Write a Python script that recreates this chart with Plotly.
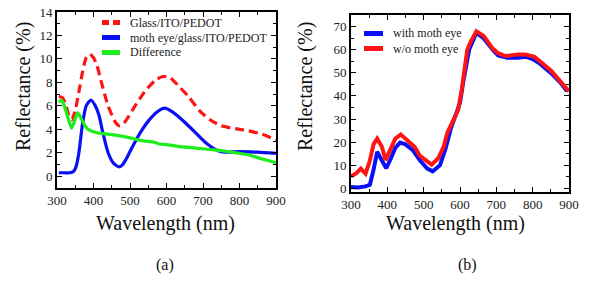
import plotly.graph_objects as go

# ---------- Panel (a) data ----------
wl_glass = [305, 315, 325, 332, 340, 350, 360, 370, 380, 390, 400, 410, 420, 440, 460, 470, 480, 490,
            510, 540, 570, 590, 610, 630, 660, 690, 720, 750, 780, 820, 860, 900]
r_glass = [6.8, 6.7, 6.0, 5.2, 4.8, 5.6, 7.2, 8.9, 10.1, 10.4, 10.1, 9.4, 8.2, 6.0, 4.6, 4.3, 4.4, 4.8,
           5.8, 7.2, 8.2, 8.5, 8.4, 7.8, 6.8, 5.6, 4.8, 4.3, 4.1, 3.9, 3.6, 3.1]

wl_moth = [305, 320, 335, 345, 352, 360, 370, 380, 393, 405, 415, 425, 440, 455, 470, 480, 490, 510,
           530, 550, 575, 595, 620, 650, 680, 710, 740, 760, 800, 850, 900]
r_moth = [0.3, 0.3, 0.3, 0.4, 0.8, 2.0, 4.5, 6.0, 6.5, 6.0, 5.2, 3.8, 2.0, 1.1, 0.8, 1.0, 1.5, 2.7,
          3.8, 4.7, 5.5, 5.8, 5.4, 4.6, 3.7, 2.8, 2.2, 2.05, 2.1, 2.05, 1.95]

wl_diff = [305, 312, 320, 330, 340, 348, 357, 365, 375, 385, 400, 420, 450, 480, 510, 540, 560, 580,
           600, 630, 680, 730, 780, 820, 860, 900]
r_diff = [6.3, 6.5, 6.0, 5.0, 4.1, 4.7, 5.4, 5.0, 4.4, 4.0, 3.8, 3.65, 3.55, 3.4, 3.2, 3.0, 2.95, 2.75,
          2.7, 2.55, 2.4, 2.25, 2.05, 1.85, 1.5, 1.15]

# ---------- Panel (b) data ----------
wl_with = [300, 320, 340, 352, 362, 372, 385, 397, 410, 422, 435, 450, 470, 490, 510, 525, 545, 560,
           575, 590, 600, 610, 625, 645, 665, 690, 705, 730, 760, 780, 800, 820, 850, 875, 895]
r_with = [0.5, 0.3, 0.8, 1.5, 8.0, 15.8, 12.0, 8.7, 13.0, 17.5, 19.8, 19.0, 16.5, 12.0, 8.5, 7.3, 10.0, 17.0,
          26.0, 32.0, 37.0, 47.0, 60.0, 67.3, 65.0, 60.0, 57.5, 56.5, 56.5, 57.0, 56.0, 54.0, 50.0, 46.0, 42.0]

wl_wo = [300, 315, 327, 340, 352, 362, 372, 385, 395, 410, 422, 437, 455, 475, 490, 510, 522, 540, 555,
         565, 580, 595, 605, 620, 628, 645, 665, 690, 705, 725, 760, 780, 805, 825, 850, 875, 900]
r_wo = [5.2, 6.5, 8.5, 6.3, 12.0, 19.0, 21.5, 18.0, 12.2, 18.0, 21.5, 23.3, 21.0, 18.0, 14.0, 11.5, 10.2, 13.0,
        18.0, 24.0, 29.0, 34.0, 43.0, 60.0, 63.0, 68.0, 66.0, 60.5, 58.5, 57.3, 58.0, 58.0, 57.0, 54.5, 51.0,
        46.5, 42.0]

x_ticks = [300, 400, 500, 600, 700, 800, 900]
ya_ticks = [0, 2, 4, 6, 8, 10, 12, 14]
yb_ticks = [0, 10, 20, 30, 40, 50, 60, 70]

names_a = ["Glass/ITO/PEDOT", "moth eye/glass/ITO/PEDOT", "Difference"]
names_b = ["with moth eye", "w/o moth eye"]
x_title = "Wavelength (nm)"
y_title = "Reflectance (%)"

RED = "#ff1414"
BLUE = "#0a10f5"
GREEN = "#1cee1c"
FONT = "Liberation Serif"

fig = go.Figure()
fig.add_trace(go.Scatter(x=wl_glass, y=r_glass, mode="lines", name=names_a[0], showlegend=False,
                         line=dict(color=RED, width=3.2, dash="9px,5px", shape="spline", smoothing=0.6),
                         xaxis="x", yaxis="y"))
fig.add_trace(go.Scatter(x=wl_moth, y=r_moth, mode="lines", name=names_a[1], showlegend=False,
                         line=dict(color=BLUE, width=3.2, shape="spline", smoothing=0.6),
                         xaxis="x", yaxis="y"))
fig.add_trace(go.Scatter(x=wl_diff, y=r_diff, mode="lines", name=names_a[2], showlegend=False,
                         line=dict(color=GREEN, width=3.2, shape="spline", smoothing=0.6),
                         xaxis="x", yaxis="y"))
fig.add_trace(go.Scatter(x=wl_with, y=r_with, mode="lines", name=names_b[0], showlegend=False,
                         line=dict(color=BLUE, width=4),
                         xaxis="x2", yaxis="y2"))
fig.add_trace(go.Scatter(x=wl_wo, y=r_wo, mode="lines", name=names_b[1], showlegend=False,
                         line=dict(color=RED, width=4),
                         xaxis="x2", yaxis="y2"))

W, H = 598, 283

def px_x(p):
    return p / W

def px_y(p):
    return 1 - p / H

common = dict(showline=True, linecolor="black", linewidth=1.6, mirror="ticks",
              ticks="inside", ticklen=5, tickwidth=1.2, tickcolor="black",
              showgrid=False, zeroline=False, automargin=False,
              tickfont=dict(family=FONT, size=13, color="#222"))

shapes = []
annos = []

def legend_entry(x0, x1, y, color, text, dash="solid"):
    shapes.append(dict(type="line", xref="paper", yref="paper", x0=px_x(x0), x1=px_x(x1),
                       y0=px_y(y), y1=px_y(y), line=dict(color=color, width=5, dash=dash)))
    annos.append(dict(text=text, x=px_x(x1 + 8), y=px_y(y), xref="paper", yref="paper",
                      xanchor="left", yanchor="middle", showarrow=False,
                      font=dict(family=FONT, size=12, color="#222")))

legend_entry(102, 120, 22.5, RED, names_a[0], dash="7px,4px")
legend_entry(102, 120, 37.5, BLUE, names_a[1])
legend_entry(102, 120, 52.5, GREEN, names_a[2])
legend_entry(364, 383, 33.5, BLUE, names_b[0])
legend_entry(364, 383, 48.5, RED, names_b[1])

def text(t, x, y, size, angle=0):
    annos.append(dict(text=t, x=px_x(x), y=px_y(y), xref="paper", yref="paper", showarrow=False,
                      xanchor="center", yanchor="middle", textangle=angle,
                      font=dict(family=FONT, size=size, color="#111")))

text(x_title, 165, 223, 20)
text(x_title, 455, 223, 20)
text(y_title, 24, 87, 20, -90)
text(y_title, 306, 87, 20, -90)
text("(a)", 165, 265, 16)
text("(b)", 467, 265, 16)

fig.update_layout(
    width=W, height=H, autosize=False,
    margin=dict(l=0, r=0, t=0, b=0),
    paper_bgcolor="white", plot_bgcolor="white",
    font=dict(family=FONT, color="#111"),
    xaxis=dict(domain=[px_x(57), px_x(276)], range=[300, 900], anchor="y",
               tickvals=x_ticks, minor=dict(dtick=50, ticks="inside", ticklen=3, tickcolor="black"),
               **common),
    yaxis=dict(domain=[px_y(188), px_y(12)], range=[-1, 14], anchor="x",
               tickvals=ya_ticks, minor=dict(dtick=1, ticks="inside", ticklen=3, tickcolor="black"),
               **common),
    xaxis2=dict(domain=[px_x(351), px_x(569)], range=[300, 900], anchor="y2",
                tickvals=x_ticks, minor=dict(dtick=50, ticks="inside", ticklen=3, tickcolor="black"),
                **common),
    yaxis2=dict(domain=[px_y(191.7), px_y(14.7)], range=[-1.5, 75.2], anchor="x2",
                tickvals=yb_ticks, minor=dict(dtick=5, ticks="inside", ticklen=3, tickcolor="black"),
                **common),
    shapes=shapes,
    annotations=annos,
)

fig.write_html("out.html",
               config={"displayModeBar": False},
               post_script="document.body.style.margin='0';document.body.style.padding='0';")
